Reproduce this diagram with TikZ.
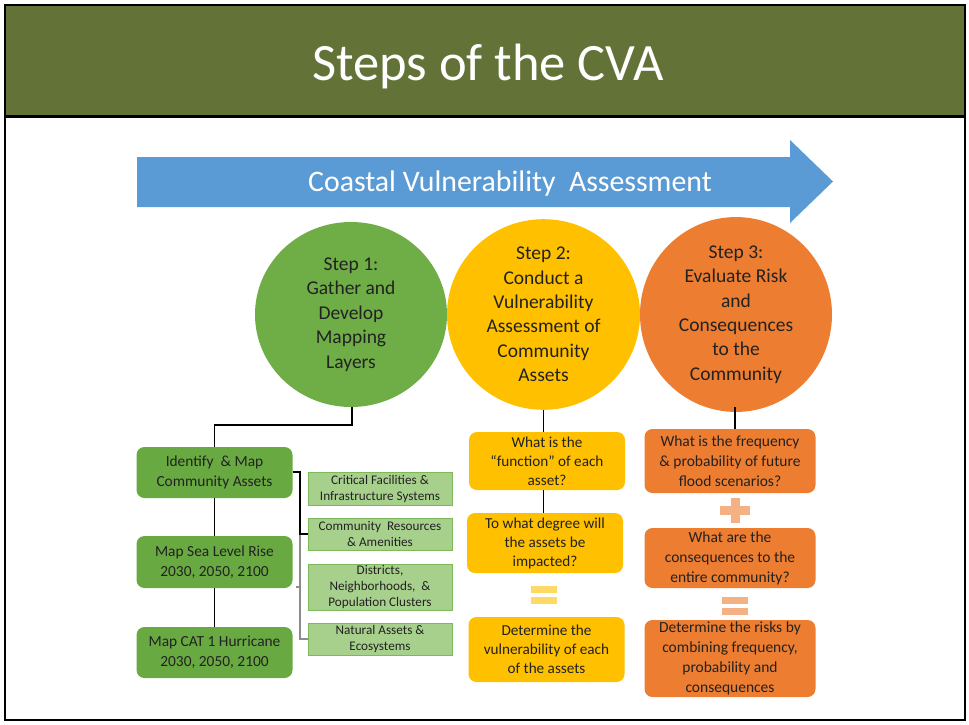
\documentclass[tikz,border=0pt]{standalone}
\usepackage{fontspec}
\setmainfont{Carlito}
\usetikzlibrary{shapes.geometric}
\definecolor{titlegreen}{HTML}{637337}
\definecolor{arrowblue}{HTML}{5B9BD5}
\definecolor{cgreen}{HTML}{6FAD46}
\definecolor{lgreen}{HTML}{69A942}
\definecolor{pgreen}{HTML}{A8D08D}
\definecolor{pgreenb}{HTML}{7DB95A}
\definecolor{cyellow}{HTML}{FFC000}
\definecolor{corange}{HTML}{ED7D31}
\definecolor{lyellow}{HTML}{FFD966}
\definecolor{lorange}{HTML}{F4B183}
\definecolor{txt}{HTML}{222222}
\definecolor{graylink}{HTML}{8C8C8C}
\begin{document}
\begin{tikzpicture}[x=1pt,y=-1pt,
  circ/.style={ellipse, minimum width=192pt, minimum height=185pt, inner sep=0pt, align=center, text=txt, font=\fontsize{19.5}{24.4}\selectfont},
  lbox/.style={rounded corners=8pt, fill=lgreen, minimum width=156pt, inner sep=0pt, align=center, text=txt, font=\fontsize{15.4}{20}\selectfont},
  sbox/.style={fill=pgreen, draw=pgreenb, line width=0.8pt, minimum width=144pt, inner sep=0pt, align=center, text=txt, font=\fontsize{13.2}{16}\selectfont},
  ybox/.style={rounded corners=8pt, fill=cyellow, minimum width=156pt, inner sep=0pt, align=center, text=txt, font=\fontsize{15.2}{19}\selectfont},
  obox/.style={rounded corners=8pt, fill=corange, minimum width=171pt, inner sep=0pt, align=center, text=txt, font=\fontsize{15.5}{20}\selectfont},
  link/.style={draw=black, line width=1.6pt},
  glink/.style={draw=graylink, line width=1.2pt}
]
\useasboundingbox (0,0) rectangle (969,725);
\fill[white] (0,0) rectangle (969,725);
% frame and title bar
\fill[titlegreen] (6,6) rectangle (964,115);
\draw[line width=3pt] (5,116.5) -- (965,116.5);
\draw[line width=1.5pt] (5,5) rectangle (965,720);
\node[anchor=base, text=white, font=\fontsize{52.5}{60}\selectfont] (title) at (488,81) {Steps of the CVA};
% blue arrow
\fill[arrowblue] (137,157) -- (790,157) -- (790,140) -- (833,181.5) -- (790,223) -- (790,207) -- (137,207) -- cycle;
\node[anchor=base, text=white, font=\fontsize{29.8}{34}\selectfont] (cva) at (510,191) {Coastal Vulnerability\ \ Assessment};
% circles
\node[circ, fill=cgreen, minimum width=192pt] (c1) at (351,314.5) {Step 1:\\Gather and\\Develop\\Mapping\\Layers};
\node[circ, fill=cyellow, minimum width=193pt] (c2) at (543.5,314.5) {Step 2:\\Conduct a\\Vulnerability\\Assessment of\\Community\\Assets};
\node[circ, fill=corange, minimum width=192pt] (c3) at (736,314.5) {Step 3:\\Evaluate Risk\\and\\Consequences\\to the\\Community};
% left column
\node[lbox, minimum height=51pt] (b1) at (214.5,472.5) {Identify \ \& Map\\Community Assets};
\node[lbox, minimum height=52pt] (b2) at (214.5,562) {Map Sea Level Rise\\2030, 2050, 2100};
\node[lbox, minimum height=51pt] (b3) at (214.5,652.5) {Map CAT 1 Hurricane\\2030, 2050, 2100};
% small boxes
\node[sbox, minimum height=33pt] (s1) at (380,488.5) {Critical Facilities \&\\Infrastructure Systems};
\node[sbox, minimum height=32pt] (s2) at (380,534) {Community \ Resources\\\& Amenities};
\node[sbox, minimum height=46pt] (s3) at (380,587) {Districts,\\Neighborhoods, \ \&\\Population Clusters};
\node[sbox, minimum height=32pt] (s4) at (380,639) {Natural Assets \&\\Ecosystems};
% yellow column
\node[ybox, minimum height=58pt] (y1) at (547,461) {What is the\\“function” of each\\asset?};
\node[ybox, minimum height=60pt] (y2) at (545,543) {To what degree will\\the assets be\\impacted?};
\node[ybox, minimum height=65pt] (y3) at (546.5,649.5) {Determine the\\vulnerability of each\\of the assets};
% orange column
\node[obox, minimum height=64pt] (o1) at (730,461) {What is the frequency\\\& probability of future\\flood scenarios?};
\node[obox, minimum height=60pt] (o2) at (730,558) {What are the\\consequences to the\\entire community?};
\node[obox, minimum height=77pt] (o3) at (730,658.5) {Determine the risks by\\combining frequency,\\probability and\\consequences};
% operators
\fill[lyellow] (531,586) rectangle (557,593);
\fill[lyellow] (531,597) rectangle (557,604);
\fill[lorange] (720,506) rectangle (750,515);
\fill[lorange] (730.5,498) rectangle (739.5,523);
\fill[lorange] (722,597) rectangle (748,604);
\fill[lorange] (722,608) rectangle (748,615);
% connectors
\coordinate (j1) at (352,425);
\coordinate (j3) at (735,407);
\draw[link] (c1.south -| j1) -- (j1) -- (j1 -| b1.north) -- (b1.north);
\draw[link] (c2.south) -- (c2.south |- y1.north);
\draw[link] (c2.south |- y1.south) -- (c2.south |- y2.north);
\draw[link] (b1.south) -- (b2.north);
\draw[link] (b2.south) -- (b3.north);
\draw[link] (j3) -- (j3 |- o1.north);
\coordinate (k1) at (300,472);
\coordinate (k2) at (300,534);
\coordinate (k3) at (300,639);
\coordinate (t1) at (296,587);
\coordinate (t2) at (300,587);
\draw[glink] (k2) -- (k3) -- (s4.west);
\draw[glink] (t1) -- (t2);
\draw[link, line width=1.3pt] (b1.east |- k1) -- (k1) -- (k2) -- (s2.west);
\end{tikzpicture}
\end{document}
